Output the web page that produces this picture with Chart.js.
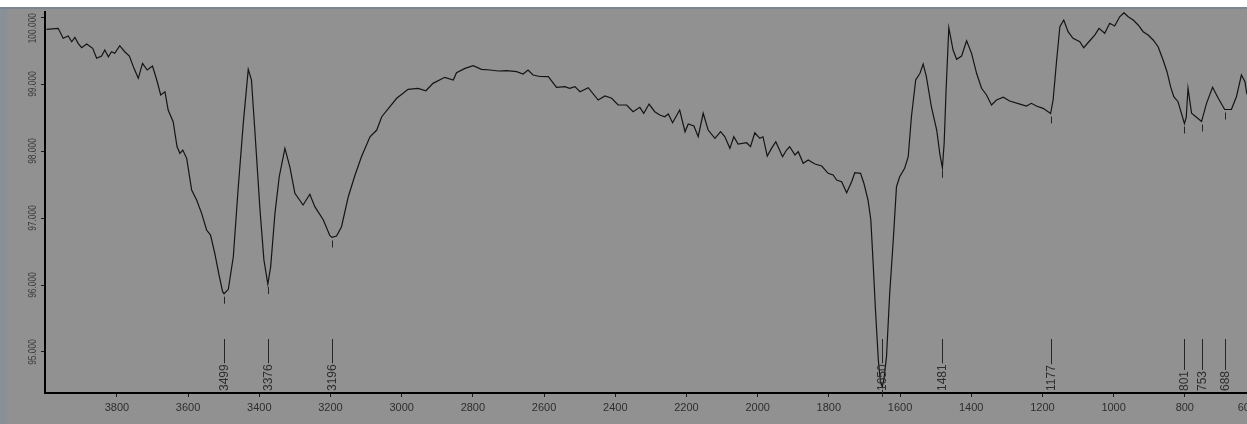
<!DOCTYPE html>
<html><head><meta charset="utf-8">
<script src="https://cdn.jsdelivr.net/npm/chart.js@4.4.1/dist/chart.umd.min.js"></script>
<style>
html,body{margin:0;padding:0;overflow:hidden;background:#919191;}
#wrap{width:1247px;height:424px;overflow:hidden;position:relative;}
canvas{display:block;}
</style></head><body>
<div id="wrap"><canvas id="c" width="1262" height="424" style="width:1262px;height:424px"></canvas></div>
<script>
// ---- data ----
const wavenumbers = [
3998,3965,3951,3937,3927,3918,3909,3899,3885,3868,3857,3843,3834,3824,3815,3806,3792,3778,3765,3752,
3740,3728,3715,3700,3688,3677,3665,3656,3642,3631,3623,3615,3604,3590,3576,3562,3548,3537,3525,3513,
3503,3499,3487,3473,3459,3445,3431,3422,3412,3398,3387,3376,3368,3356,3344,3328,3314,3300,3277,3258,
3244,3220,3202,3196,3183,3169,3150,3131,3113,3089,3070,3056,3033,3014,2982,2954,2932,2912,2879,2855,
2846,2822,2799,2776,2752,2729,2705,2677,2659,2645,2631,2612,2588,2565,2542,2528,2513,2499,2476,2448,
2429,2410,2392,2368,2350,2331,2320,2305,2289,2275,2261,2251,2239,2219,2204,2195,2179,2167,2153,2139,
2120,2104,2092,2078,2067,2055,2031,2020,2008,1994,1985,1973,1961,1949,1930,1919,1910,1895,1886,1872,
1858,1839,1820,1802,1788,1778,1764,1750,1736,1727,1711,1702,1690,1682,1676,1669,1661,1655,1650,1645,
1638,1629,1619,1610,1601,1587,1577,1568,1556,1544,1535,1526,1512,1497,1488,1481,1476,1471,1463,1451,
1441,1427,1413,1399,1385,1371,1357,1343,1329,1310,1292,1263,1245,1231,1217,1198,1177,1170,1160,1151,
1140,1128,1114,1095,1084,1067,1053,1041,1025,1011,997,983,971,959,945,931,917,903,889,875,
861,850,840,831,819,801,796,791,781,769,753,739,722,706,688,669,655,641,631,626,
615,600];
const transmittance = [
99.816,99.831,99.682,99.716,99.631,99.697,99.607,99.542,99.597,99.533,99.384,99.418,99.507,99.407,99.482,99.458,99.572,99.482,99.418,99.234,
99.085,99.309,99.209,99.269,99.060,98.836,98.885,98.612,98.437,98.064,97.966,98.015,97.891,97.418,97.269,97.070,96.821,96.746,96.473,96.149,
95.900,95.870,95.936,96.422,97.467,98.413,99.219,99.060,98.264,97.119,96.373,96.015,96.273,97.070,97.616,98.040,97.760,97.369,97.194,97.354,
97.169,96.970,96.740,96.710,96.731,96.870,97.318,97.642,97.915,98.213,98.313,98.512,98.661,98.787,98.921,98.936,98.900,99.010,99.100,99.060,
99.169,99.234,99.273,99.219,99.209,99.194,99.199,99.184,99.149,99.209,99.134,99.112,99.109,98.951,98.960,98.936,98.960,98.885,98.945,98.761,
98.821,98.787,98.687,98.687,98.587,98.652,98.563,98.701,98.587,98.537,98.512,98.552,98.422,98.612,98.288,98.403,98.373,98.213,98.563,98.313,
98.190,98.288,98.213,98.040,98.213,98.104,98.124,98.064,98.273,98.190,98.213,97.925,98.040,98.139,97.915,98.015,98.064,97.940,97.990,97.816,
97.866,97.806,97.776,97.667,97.642,97.567,97.542,97.378,97.542,97.676,97.667,97.527,97.269,96.970,96.373,95.627,94.881,94.550,94.480,94.600,
94.930,95.876,96.672,97.467,97.616,97.742,97.915,98.512,99.060,99.160,99.299,99.109,98.661,98.313,97.950,97.750,98.120,98.860,99.840,99.507,
99.369,99.418,99.646,99.458,99.160,98.936,98.836,98.687,98.761,98.802,98.746,98.701,98.672,98.712,98.672,98.637,98.560,98.761,99.358,99.855,
99.955,99.781,99.682,99.631,99.542,99.646,99.731,99.831,99.757,99.906,99.866,100.004,100.064,100.004,99.955,99.881,99.781,99.731,99.657,99.557,
99.358,99.184,98.960,98.810,98.736,98.410,98.500,98.936,98.563,98.512,98.440,98.712,98.951,98.787,98.620,98.622,98.810,99.134,99.034,98.861,
98.750,98.700];
const xTickValues = [3800,3600,3400,3200,3000,2800,2600,2400,2200,2000,1800,1600,1400,1200,1000,800,600];
const yTickValues = [95,96,97,98,99,100];
const peakPositions = [3499,3376,3196,1650,1481,1177,801,753,688];
const peakLabels = ['3499','3376','3196','1650','1481','1177','801','753','688'];
const peakMinima = [95.87,96.015,96.71,94.48,97.75,98.56,98.41,98.44,98.62];

const FONT = '"Liberation Sans", Arial, sans-serif';
const TEXT = '#2e2e2e';

const points = wavenumbers.map((w,i)=>({x:w, y:transmittance[i]}));

const bgPlugin = {
  id:'bg',
  beforeDraw(chart){
    const {ctx,width,height} = chart;
    ctx.save();
    ctx.fillStyle='#919191'; ctx.fillRect(0,0,width,height);
    ctx.fillStyle='#8a9097'; ctx.fillRect(0,0,7,height);
    ctx.fillStyle='#ffffff'; ctx.fillRect(0,0,width,7);
    ctx.fillStyle='#7d8792'; ctx.fillRect(0,7,width,2);
    ctx.restore();
  }
};

const labelPlugin = {
  id:'labels',
  afterDraw(chart){
    const {ctx, chartArea} = chart;
    const xs = chart.scales.x, ys = chart.scales.y;
    ctx.save();
    // y tick labels (rotated, slightly condensed, clamped inside the axis)
    ctx.font = '10px ' + FONT;
    ctx.fillStyle = '#3a3a3a';
    const squeeze = 0.84;
    ys.ticks.forEach(t=>{
      const txt = t.value.toFixed(3);
      const w = ctx.measureText(txt).width * squeeze;
      let cy = ys.getPixelForValue(t.value);
      const top = chartArea.top + 1;
      if (cy - w/2 < top) cy = top + w/2;
      ctx.save();
      ctx.translate(33, cy);
      ctx.rotate(-Math.PI/2);
      ctx.scale(squeeze, 1);
      ctx.textAlign='center'; ctx.textBaseline='middle';
      ctx.fillText(txt,0,0);
      ctx.restore();
    });
    // x tick labels (clamped to the axis ends)
    ctx.font = '11px ' + FONT;
    ctx.fillStyle = TEXT;
    ctx.textAlign='center'; ctx.textBaseline='middle';
    xs.ticks.forEach(t=>{
      if (!xTickValues.includes(t.value)) return;
      const txt = String(t.value);
      const w = ctx.measureText(txt).width;
      let cx = xs.getPixelForValue(t.value);
      if (cx + w/2 > chartArea.right) cx = chartArea.right - w/2;
      if (cx - w/2 < chartArea.left) cx = chartArea.left + w/2;
      ctx.fillText(txt, cx, chartArea.bottom + 15);
    });
    // peak markers
    ctx.strokeStyle = '#262626';
    ctx.lineWidth = 1;
    ctx.font = '12px ' + FONT;
    peakPositions.forEach((p,i)=>{
      const px = Math.round(xs.getPixelForValue(p)) + 0.5;
      const py = ys.getPixelForValue(peakMinima[i]);
      ctx.beginPath(); ctx.moveTo(px, py+3); ctx.lineTo(px, py+10); ctx.stroke();
      const txt = peakLabels[i];
      const w = ctx.measureText(txt).width;
      const base = chartArea.bottom - 2;
      ctx.save();
      ctx.translate(px, base);
      ctx.rotate(-Math.PI/2);
      ctx.textAlign='left'; ctx.textBaseline='middle';
      ctx.fillStyle = TEXT;
      ctx.fillText(txt, 0, 0);
      ctx.restore();
      ctx.beginPath(); ctx.moveTo(px, chartArea.bottom - 54); ctx.lineTo(px, base - w - 1); ctx.stroke();
    });
    ctx.restore();
  }
};

new Chart(document.getElementById('c'), {
  type:'line',
  data:{ datasets:[{ data: points, borderColor:'#141414', borderWidth:1.2, pointRadius:0, tension:0, fill:false }]},
  options:{
    responsive:false, animation:false,
    layout:{ padding:{ top:12, right:6, left:0, bottom:0 } },
    plugins:{ legend:{display:false}, tooltip:{enabled:false} },
    scales:{
      x:{
        type:'linear', reverse:true, min:600, max:4002,
        afterBuildTicks: s => { s.ticks = xTickValues.map(v=>({value:v})); },
        ticks:{ display:false },
        grid:{ drawOnChartArea:false, drawTicks:true, tickLength:4, color:'#1a1a1a' },
        border:{ display:true, color:'#000', width:2 },
        afterFit: s => { s.height = 31; s.paddingLeft = 0; s.paddingRight = 0; }
      },
      y:{
        type:'linear', min:94.388, max:100.075,
        afterBuildTicks: s => { s.ticks = yTickValues.map(v=>({value:v})); },
        ticks:{ display:false },
        grid:{ drawOnChartArea:false, drawTicks:true, tickLength:4, color:'#1a1a1a' },
        border:{ display:true, color:'#000', width:2 },
        afterFit: s => { s.width = 45; s.paddingTop = 0; s.paddingBottom = 0; }
      }
    }
  },
  plugins:[bgPlugin, labelPlugin]
});
</script>
</body></html>
